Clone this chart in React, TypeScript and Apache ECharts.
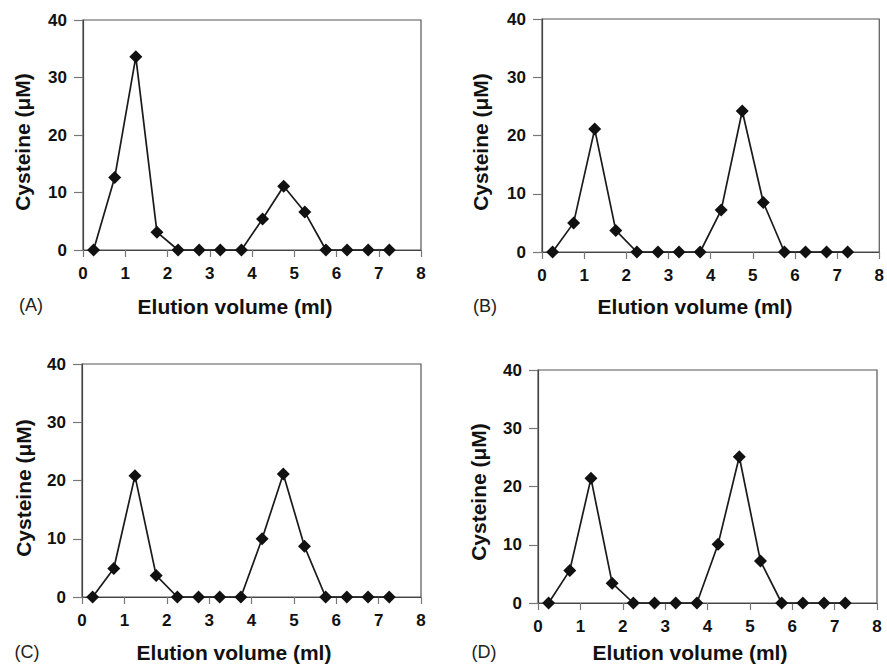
import React, { useEffect, useRef } from "react";
import * as echarts from "echarts";

const elutionVolume = [0.25, 0.75, 1.25, 1.75, 2.25, 2.75, 3.25, 3.75, 4.25, 4.75, 5.25, 5.75, 6.25, 6.75, 7.25];
const cysteineA = [0, 12.6, 33.6, 3.1, 0, 0, 0, 0, 5.4, 11.1, 6.6, 0, 0, 0, 0];
const cysteineB = [0, 5.0, 21.1, 3.7, 0, 0, 0, 0, 7.2, 24.2, 8.5, 0, 0, 0, 0];
const cysteineC = [0, 4.9, 20.8, 3.7, 0, 0, 0, 0, 10.0, 21.1, 8.7, 0, 0, 0, 0];
const cysteineD = [0, 5.6, 21.4, 3.4, 0, 0, 0, 0, 10.1, 25.1, 7.2, 0, 0, 0, 0];
const panelLabels = ["(A)", "(B)", "(C)", "(D)"];
const xTitle = "Elution volume (ml)";
const yTitle = "Cysteine (\u03bcM)";

const FONT = "Liberation Sans, Arial, sans-serif";

const panels = [
  { data: cysteineA, grid: { left: 83, top: 20, width: 338, height: 230 }, yT: [22, 142], xT: [235, 306], lab: [31, 305] },
  { data: cysteineB, grid: { left: 542, top: 19, width: 340, height: 233 }, yT: [480, 142], xT: [695, 306], lab: [485, 306] },
  { data: cysteineC, grid: { left: 82, top: 364, width: 339, height: 233 }, yT: [23, 488], xT: [234, 652], lab: [27, 652] },
  { data: cysteineD, grid: { left: 538, top: 370, width: 339, height: 233 }, yT: [478, 492], xT: [690, 652], lab: [484, 652] },
];

function makeOption() {
  const grid = panels.map((p) => ({
    left: p.grid.left,
    top: p.grid.top,
    width: p.grid.width,
    height: p.grid.height,
    show: true,
    borderColor: "#555",
    borderWidth: 1.2,
  }));
  const xAxis = panels.map((_, i) => ({
    type: "value",
    gridIndex: i,
    min: 0,
    max: 8,
    interval: 1,
    axisLine: { show: true, onZero: false, lineStyle: { color: "#444", width: 1.2 } },
    axisTick: { show: true, inside: false, length: 7, lineStyle: { color: "#777", width: 1.2 } },
    axisLabel: { show: true, margin: 15, color: "#111", fontSize: 17, fontWeight: 700, fontFamily: FONT },
    splitLine: { show: false },
  }));
  const yAxis = panels.map((_, i) => ({
    type: "value",
    gridIndex: i,
    min: 0,
    max: 40,
    interval: 10,
    axisLine: { show: true, onZero: false, lineStyle: { color: "#444", width: 1.2 } },
    axisTick: { show: true, inside: false, length: 9, lineStyle: { color: "#777", width: 1.2 } },
    axisLabel: { show: true, margin: 16, color: "#111", fontSize: 17, fontWeight: 700, fontFamily: FONT },
    splitLine: { show: false },
  }));
  const series = panels.map((p, i) => ({
    type: "line",
    xAxisIndex: i,
    yAxisIndex: i,
    data: elutionVolume.map((x, j) => [x, p.data[j]]),
    symbol: "diamond",
    symbolSize: 13,
    clip: false,
    lineStyle: { color: "#1a1a1a", width: 1.7 },
    itemStyle: { color: "#111" },
    z: 5,
  }));
  const graphic: any[] = [];
  panels.forEach((p, i) => {
    graphic.push({
      type: "text",
      x: p.xT[0],
      y: p.xT[1],
      style: { text: xTitle, fontSize: 21, fontWeight: "bold", fontFamily: FONT, fill: "#111", align: "center", verticalAlign: "middle" },
    });
    graphic.push({
      type: "text",
      x: p.yT[0],
      y: p.yT[1],
      rotation: Math.PI / 2,
      style: { text: yTitle, fontSize: 21, fontWeight: "bold", fontFamily: FONT, fill: "#111", align: "center", verticalAlign: "middle" },
    });
    graphic.push({
      type: "text",
      x: p.lab[0],
      y: p.lab[1],
      style: { text: panelLabels[i], fontSize: 18, fontWeight: "normal", fontFamily: FONT, fill: "#222", align: "center", verticalAlign: "middle" },
    });
  });
  return { animation: false, backgroundColor: "#fff", grid, xAxis, yAxis, series, graphic };
}

export default function App() {
  const ref = useRef<HTMLDivElement>(null);
  useEffect(() => {
    if (!ref.current) return;
    const chart = echarts.init(ref.current, null, { renderer: "svg" });
    chart.setOption(makeOption() as any);
    return () => chart.dispose();
  }, []);
  return <div ref={ref} style={{ position: "absolute", left: 0, top: 0, width: 887, height: 665 }} />;
}
